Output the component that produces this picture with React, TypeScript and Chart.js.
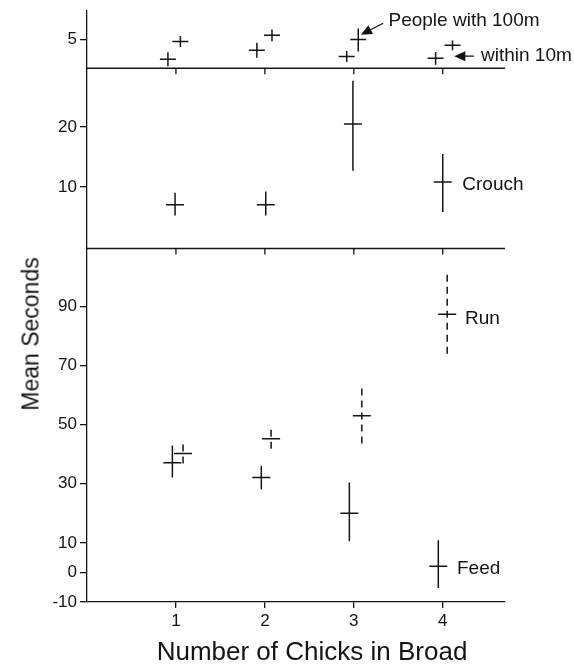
import React, { useEffect, useRef } from 'react';
import { Chart, registerables } from 'chart.js';

Chart.register(...registerables);

// ---------- data ----------
const xTickValues = [1, 2, 3, 4];

// Top panel: people present (within 10m = lower/left, within 100m = upper/right)
const within10X = [0.91, 1.91, 2.92, 3.92];
const within10Mean = [1.55, 3.1, 2.05, 1.72];
const within10Low = [0.35, 1.8, 1.1, 0.6];
const within10High = [2.75, 4.4, 3.0, 2.8];

const within100X = [1.05, 2.08, 3.05, 4.11];
const within100Mean = [4.65, 5.7, 5.0, 3.97];
const within100Low = [3.7, 4.67, 2.9, 3.1];
const within100High = [5.6, 6.73, 6.9, 4.8];

// Middle panel: Crouch
const crouchX = [0.99, 2.01, 2.99, 4.0];
const crouchMean = [7.0, 7.0, 20.5, 10.8];
const crouchLow = [5.2, 5.2, 12.7, 5.8];
const crouchHigh = [9.0, 9.2, 27.7, 15.5];

// Bottom panel: Feed (solid) and Run (dashed)
const feedX = [0.96, 1.96, 2.95, 3.95];
const feedMean = [37.1, 32.1, 20.0, 2.1];
const feedLow = [32.1, 28.0, 10.5, -5.3];
const feedHigh = [42.9, 36.1, 30.4, 10.9];

const runX = [1.08, 2.07, 3.09, 4.05];
const runMean = [40.2, 45.2, 53.0, 87.3];
const runLow = [36.8, 41.8, 43.6, 73.9];
const runHigh = [43.9, 49.2, 63.8, 101.2];

const topTicks = [5];
const midTicks = [10, 20];
const bottomTicks = [-10, 0, 10, 30, 50, 70, 90];

const notes = [
  { text: 'People with 100m', axis: 'yTop', x: 3.39, y: 8.3 },
  { text: 'within 10m', axis: 'yTop', x: 4.43, y: 2.1 },
  { text: 'Crouch', axis: 'yMid', x: 4.22, y: 10.4 },
  { text: 'Run', axis: 'yBot', x: 4.25, y: 85.6 },
  { text: 'Feed', axis: 'yBot', x: 4.16, y: 1.3 },
];

const arrows = [
  { axis: 'yTop', from: [3.33, 7.8], to: [3.08, 5.8] },
  { axis: 'yTop', from: [4.35, 2.1], to: [4.13, 2.1] },
];

// ---------- styling ----------
const INK = '#141414';
const FONT = '"Liberation Sans", Arial, Helvetica, sans-serif';

function segments(xs: number[], lo: number[], hi: number[]) {
  const pts: any[] = [];
  xs.forEach((x, i) => {
    pts.push({ x, y: lo[i] }, { x, y: hi[i] }, { x, y: null });
  });
  return pts;
}
function centers(xs: number[], ys: number[]) {
  return xs.map((x, i) => ({ x, y: ys[i] }));
}

function errorSet(label: string, axis: string, xs: number[], lo: number[], hi: number[], dashed = false) {
  return {
    type: 'line' as const,
    label,
    yAxisID: axis,
    data: segments(xs, lo, hi),
    borderColor: INK,
    borderWidth: 1.5,
    borderDash: dashed ? [7, 5] : [],
    pointRadius: 0,
    spanGaps: false,
    fill: false,
  };
}
function meanSet(label: string, axis: string, xs: number[], ys: number[], r = 9) {
  return {
    type: 'scatter' as const,
    label,
    yAxisID: axis,
    data: centers(xs, ys),
    showLine: false,
    pointStyle: 'line',
    pointRadius: r,
    pointBorderColor: INK,
    pointBorderWidth: 1.5,
    borderColor: INK,
  };
}

const decorPlugin = {
  id: 'panelDecor',
  afterDraw(chart: any) {
    const ctx = chart.ctx;
    const xs = chart.scales.x;
    ctx.save();
    ctx.strokeStyle = INK;
    ctx.fillStyle = INK;
    ctx.lineWidth = 1.3;
    ['yTop', 'yMid'].forEach((id) => {
      const s = chart.scales[id];
      const yb = s.bottom;
      ctx.beginPath();
      ctx.moveTo(xs.left, yb);
      ctx.lineTo(xs.right, yb);
      xs.ticks.forEach((t: any) => {
        const px = xs.getPixelForValue(t.value);
        ctx.moveTo(px, yb);
        ctx.lineTo(px, yb + 6);
      });
      ctx.stroke();
    });
    ctx.font = `19px ${FONT}`;
    ctx.textBaseline = 'middle';
    ctx.textAlign = 'left';
    notes.forEach((n) => {
      const s = chart.scales[n.axis];
      ctx.fillText(n.text, xs.getPixelForValue(n.x), s.getPixelForValue(n.y));
    });
    arrows.forEach((a) => {
      const s = chart.scales[a.axis];
      const x0 = xs.getPixelForValue(a.from[0]);
      const y0 = s.getPixelForValue(a.from[1]);
      const x1 = xs.getPixelForValue(a.to[0]);
      const y1 = s.getPixelForValue(a.to[1]);
      const ang = Math.atan2(y1 - y0, x1 - x0);
      const hl = 11;
      const hw = 5;
      ctx.beginPath();
      ctx.moveTo(x0, y0);
      ctx.lineTo(x1 - Math.cos(ang) * hl * 0.6, y1 - Math.sin(ang) * hl * 0.6);
      ctx.stroke();
      ctx.beginPath();
      ctx.moveTo(x1, y1);
      ctx.lineTo(x1 - Math.cos(ang) * hl - Math.sin(ang) * hw, y1 - Math.sin(ang) * hl + Math.cos(ang) * hw);
      ctx.lineTo(x1 - Math.cos(ang) * hl + Math.sin(ang) * hw, y1 - Math.sin(ang) * hl - Math.cos(ang) * hw);
      ctx.closePath();
      ctx.fill();
    });
    ctx.restore();
  },
};

function yScale(weight: number, min: number, max: number, ticks: number[]) {
  return {
    type: 'linear' as const,
    position: 'left' as const,
    stack: 'panels',
    stackWeight: weight,
    min,
    max,
    afterBuildTicks: (s: any) => {
      s.ticks = ticks.map((v) => ({ value: v }));
    },
    afterFit: (s: any) => {
      s.width = 87;
      s.paddingTop = 0;
      s.paddingBottom = 0;
    },
    grid: { drawOnChartArea: false, tickLength: 7, color: INK, lineWidth: 1.3 },
    border: { color: INK, width: 1.3 },
    ticks: { color: INK, font: { family: FONT, size: 17 }, padding: 3 },
  };
}

export default function App() {
  const ref = useRef<HTMLCanvasElement>(null);
  useEffect(() => {
    if (!ref.current) return;
    const chart = new Chart(ref.current, {
      type: 'line',
      data: {
        datasets: [
          errorSet('within 10m', 'yTop', within10X, within10Low, within10High),
          meanSet('within 10m', 'yTop', within10X, within10Mean, 8),
          errorSet('within 100m', 'yTop', within100X, within100Low, within100High),
          meanSet('within 100m', 'yTop', within100X, within100Mean, 8),
          errorSet('Crouch', 'yMid', crouchX, crouchLow, crouchHigh),
          meanSet('Crouch', 'yMid', crouchX, crouchMean, 9),
          errorSet('Feed', 'yBot', feedX, feedLow, feedHigh),
          meanSet('Feed', 'yBot', feedX, feedMean, 9),
          errorSet('Run', 'yBot', runX, runLow, runHigh, true),
          meanSet('Run', 'yBot', runX, runMean, 9),
        ] as any,
      },
      options: {
        responsive: false,
        animation: false,
        devicePixelRatio: 1,
        events: [],
        layout: { padding: { top: 6, right: 69, bottom: 0, left: 0 } },
        plugins: { legend: { display: false }, tooltip: { enabled: false } },
        scales: {
          x: {
            type: 'linear',
            position: 'bottom',
            min: 0,
            max: 4.7,
            afterBuildTicks: (s: any) => {
              s.ticks = xTickValues.map((v) => ({ value: v }));
            },
            afterFit: (s: any) => {
              s.height = 64;
              s.paddingLeft = 0;
              s.paddingRight = 0;
            },
            grid: { drawOnChartArea: false, tickLength: 6, color: INK, lineWidth: 1.3 },
            border: { color: INK, width: 1.3 },
            ticks: { color: INK, font: { family: FONT, size: 17 }, padding: 3 },
          },
          yBot: yScale(355, -10, 109.5, bottomTicks),
          yMid: yScale(181, -0.3, 29.8, midTicks),
          yTop: yScale(58, 0, 10, topTicks),
        } as any,
      },
      plugins: [decorPlugin],
    });
    return () => chart.destroy();
  }, []);

  return (
    <div style={{ position: 'fixed', left: 0, top: 0, width: 574, height: 666, background: '#fff' }}>
      <canvas ref={ref} width={574} height={666} style={{ display: 'block', width: 574, height: 666 }} />
      <div
        style={{
          position: 'absolute',
          left: 31,
          top: 334,
          transform: 'translate(-50%, -50%) rotate(-90deg)',
          font: `23px ${FONT}`,
          color: INK,
          whiteSpace: 'nowrap',
        }}
      >
        Mean Seconds
      </div>
      <div
        style={{
          position: 'absolute',
          left: 312,
          top: 651,
          transform: 'translate(-50%, -50%)',
          font: `26px ${FONT}`,
          color: INK,
          whiteSpace: 'nowrap',
        }}
      >
        Number of Chicks in Broad
      </div>
    </div>
  );
}
